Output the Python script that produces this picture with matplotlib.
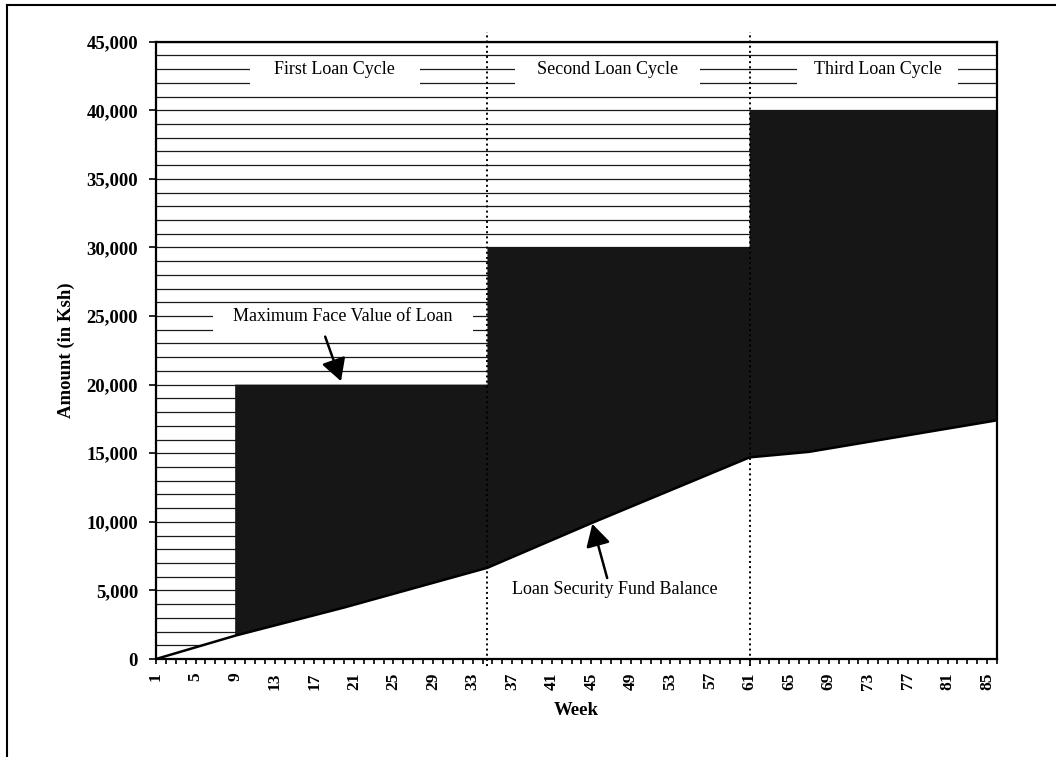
import numpy as np
import matplotlib.pyplot as plt
from matplotlib.ticker import FuncFormatter
from matplotlib.lines import Line2D
from matplotlib.patches import Rectangle

plt.rcParams['font.family'] = ['Liberation Serif', 'DejaVu Serif']

# %% Values
weeks = np.arange(1, 87)
tick_weeks = np.arange(1, 86, 4)

# loan size steps up at the start of each cycle
cycle_bounds = [9, 34.5, 61, 86]
loan_sizes = [20000, 30000, 40000]
cycle_names = ['First Loan Cycle', 'Second Loan Cycle', 'Third Loan Cycle']

# loan security fund balance (bends of the line)
fund_weeks = [1, 9, 20, 34.5, 45, 61, 67, 86]
fund_balance = [0, 1700, 3750, 6650, 9900, 14700, 15100, 17400]

# %% Figure
W, H = 1056, 757
fig = plt.figure(figsize=(W / 100, H / 100), dpi=100)
ax = fig.add_axes([156 / W, 1 - 659 / H, (997 - 156) / W, (659 - 41.7) / H])
ax.set_xlim(1, 86)
ax.set_ylim(0, 45000)

# horizontal lines every 1,000 (visible where no area covers them)
ax.set_yticks(np.arange(0, 45001, 5000))
ax.set_yticks(np.arange(1000, 45000, 1000), minor=True)
ax.grid(True, which='both', axis='y', color='#1a1a1a', lw=0.9)
ax.set_axisbelow(True)

# white area under the fund balance
ax.fill_between(fund_weeks, 0, fund_balance, color='white', lw=0, zorder=1)

# dark area between fund balance and maximum loan value
top_x, top_y = [], []
for i, size in enumerate(loan_sizes):
    top_x += [cycle_bounds[i], cycle_bounds[i + 1]]
    top_y += [size, size]
low = [(w, b) for w, b in zip(fund_weeks, fund_balance) if w >= cycle_bounds[0]]
poly_x = top_x + [w for w, b in low[::-1]]
poly_y = top_y + [b for w, b in low[::-1]]
ax.fill(poly_x, poly_y, color='#161616', lw=0, zorder=1.2)
ax.plot(fund_weeks, fund_balance, color='black', lw=1.8, zorder=2)

# cycle separators
for b in cycle_bounds[1:3]:
    ax.axvline(b, ymin=-0.012, ymax=1.015, color='black', ls=':', lw=1.4,
               clip_on=False, zorder=4)

# %% Labels with white boxes
def boxed_label(x, y, text, x0, x1, y0, y1):
    ax.add_patch(Rectangle((x0, y0), x1 - x0, y1 - y0, facecolor='white',
                           edgecolor='none', zorder=2.5))
    ax.text(x, y, text, ha='center', va='center', fontsize=13, zorder=3)


boxed_label(19.0, 43000, cycle_names[0], 10.5, 27.7, 41600, 43600)
boxed_label(46.6, 43000, cycle_names[1], 37.3, 56.0, 41600, 43600)
boxed_label(74.0, 43000, cycle_names[2], 65.8, 82.1, 41600, 43600)
boxed_label(19.9, 25000, 'Maximum Face Value of Loan', 6.8, 33.0, 23600, 25600)

ax.text(47.4, 5100, 'Loan Security Fund Balance', ha='center', va='center',
        fontsize=13, zorder=3)

arrow = dict(arrowstyle='-|>,head_length=0.45,head_width=0.25',
             mutation_scale=30, lw=1.8, color='black', shrinkA=0, shrinkB=0)
ax.annotate('', xy=(19.7, 20250), xytext=(18.1, 23500), arrowprops=arrow,
            zorder=3)
ax.annotate('', xy=(45.1, 9850), xytext=(46.6, 5900), arrowprops=arrow,
            zorder=3)

# %% Axes styling
ax.set_xticks(tick_weeks)
ax.set_xticks(weeks, minor=True)
ax.set_xticklabels([str(w) for w in tick_weeks], rotation=90)
ax.tick_params(axis='x', which='both', direction='out', length=3.5,
               width=1.2, pad=6, labelsize=12.5)
ax.tick_params(axis='y', which='major', direction='out', length=5,
               width=1.2, pad=8, labelsize=13.5)
ax.tick_params(axis='y', which='minor', length=0)
ax.yaxis.set_major_formatter(FuncFormatter(lambda v, p: f'{v:,.0f}'))
for lab in ax.get_xticklabels() + ax.get_yticklabels():
    lab.set_fontweight('bold')

for s in ax.spines.values():
    s.set_linewidth(1.6)
    s.set_zorder(5)

ax.set_xlabel('Week', fontsize=13.5, fontweight='bold', labelpad=9)
ax.set_ylabel('Amount (in Ksh)', fontsize=13.5, fontweight='bold', labelpad=8.5)

# outer frame of the scanned figure
fig.add_artist(Line2D([7 / W, 1], [1 - 5 / H, 1 - 5 / H], color='black', lw=1.5))
fig.add_artist(Line2D([7 / W, 7 / W], [0, 1 - 5 / H], color='black', lw=1.5))

plt.savefig('out.png', dpi=100)
